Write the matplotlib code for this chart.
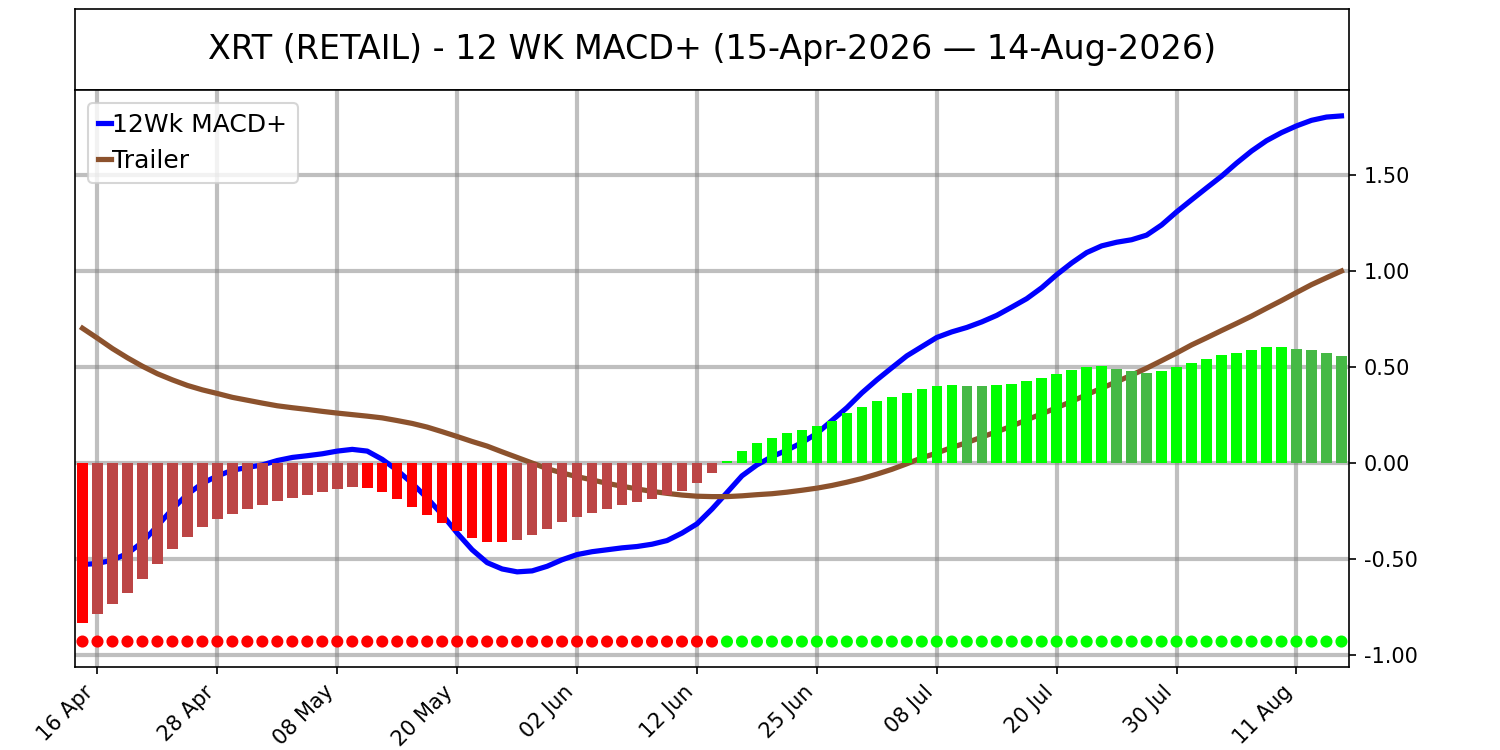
import numpy as np
import pandas as pd
import matplotlib
matplotlib.use("Agg")
import matplotlib.pyplot as plt
from matplotlib.ticker import FormatStrFormatter

# торговые дни 15-Apr-2026 .. 14-Aug-2026 (без праздников США)
holidays = ["2026-05-25", "2026-06-19", "2026-07-03"]
dates = pd.bdate_range("2026-04-15", "2026-08-14", freq="C", holidays=holidays)

hist = [-0.833, -0.788, -0.737, -0.677, -0.606, -0.525, -0.448, -0.385, -0.333, -0.290,
        -0.265, -0.240, -0.219, -0.198, -0.183, -0.167, -0.150, -0.135, -0.125, -0.131,
        -0.150, -0.187, -0.231, -0.271, -0.313, -0.352, -0.390, -0.410, -0.413, -0.400,
        -0.375, -0.346, -0.308, -0.279, -0.260, -0.240, -0.221, -0.202, -0.187, -0.169,
        -0.148, -0.102, -0.052, 0.010, 0.065, 0.106, 0.131, 0.154, 0.173, 0.192,
        0.221, 0.258, 0.292, 0.323, 0.346, 0.365, 0.388, 0.402, 0.405, 0.403,
        0.402, 0.408, 0.413, 0.429, 0.444, 0.465, 0.487, 0.500, 0.503, 0.492,
        0.481, 0.471, 0.481, 0.502, 0.523, 0.544, 0.560, 0.575, 0.590, 0.602,
        0.604, 0.596, 0.590, 0.575, 0.556]

macd = [-0.529, -0.523, -0.506, -0.471, -0.413, -0.327, -0.240, -0.163, -0.106, -0.067,
        -0.038, -0.023, -0.010, 0.013, 0.029, 0.038, 0.048, 0.062, 0.071, 0.062,
        0.019, -0.038, -0.106, -0.183, -0.269, -0.365, -0.452, -0.519, -0.552, -0.567,
        -0.562, -0.538, -0.504, -0.477, -0.462, -0.452, -0.442, -0.435, -0.423, -0.404,
        -0.365, -0.317, -0.240, -0.154, -0.067, -0.010, 0.033, 0.067, 0.106, 0.154,
        0.221, 0.288, 0.365, 0.433, 0.496, 0.558, 0.606, 0.654, 0.683, 0.706,
        0.735, 0.769, 0.812, 0.856, 0.913, 0.981, 1.042, 1.096, 1.131, 1.150,
        1.163, 1.187, 1.240, 1.308, 1.371, 1.433, 1.494, 1.562, 1.625, 1.679,
        1.721, 1.756, 1.785, 1.802, 1.808]

trailer = [0.702, 0.650, 0.596, 0.548, 0.504, 0.465, 0.433, 0.404, 0.381, 0.362,
           0.342, 0.327, 0.312, 0.298, 0.288, 0.279, 0.269, 0.260, 0.252, 0.244,
           0.235, 0.221, 0.206, 0.187, 0.163, 0.138, 0.112, 0.088, 0.058, 0.029,
           0.000, -0.029, -0.052, -0.071, -0.088, -0.106, -0.121, -0.135, -0.148, -0.158,
           -0.167, -0.173, -0.175, -0.175, -0.171, -0.165, -0.160, -0.152, -0.142, -0.131,
           -0.117, -0.100, -0.081, -0.058, -0.033, -0.004, 0.027, 0.052, 0.081, 0.106,
           0.135, 0.163, 0.192, 0.225, 0.256, 0.288, 0.321, 0.356, 0.390, 0.423,
           0.458, 0.494, 0.533, 0.573, 0.615, 0.652, 0.690, 0.727, 0.765, 0.806,
           0.846, 0.888, 0.929, 0.965, 1.000]

title = "XRT (RETAIL) - 12 WK MACD+ (15-Apr-2026 \u2014 14-Aug-2026)"

x = np.arange(len(dates))
h = np.array(hist)

# цвет столбиков: яркий, если гистограмма растёт по модулю
bar_colors = []
for i in range(len(h)):
    prev = h[i - 1] if i > 0 else 0.0
    if h[i] >= 0:
        bar_colors.append("#00ff00" if (i == 0 or h[i] > prev) else "#45b945")
    else:
        bar_colors.append("#ff0000" if (i == 0 or h[i] < prev) else "#bc4545")
dot_colors = ["#ff0000" if v < 0 else "#00ff00" for v in h]

fig = plt.figure(figsize=(10, 5), dpi=150)

# заголовок в отдельной рамке
tax = fig.add_axes([0.05, 0.88, 0.8493, 0.108])
tax.set_xticks([])
tax.set_yticks([])
tax.text(0.5, 0.5, title, ha="center", va="center", fontsize=16, transform=tax.transAxes)

ax = fig.add_axes([0.05, 0.1107, 0.8493, 0.7693])
ax.set_axisbelow(True)
ax.grid(True, color="grey", alpha=0.5, linewidth=2)

ax.plot(x, macd, color="#0000ff", linewidth=2.5, label="12Wk MACD+", zorder=0.8)
ax.plot(x, trailer, color="#8c522d", linewidth=2.5, label="Trailer", zorder=0.8)
ax.bar(x, h, width=0.7, color=bar_colors, zorder=1)
ax.scatter(x, np.full(len(x), -0.93), s=23, c=dot_colors, zorder=3)

ax.set_xlim(-0.5, len(x) - 0.5)
ax.set_ylim(-1.0625, 1.943)
ax.yaxis.tick_right()
ax.set_yticks([-1.0, -0.5, 0.0, 0.5, 1.0, 1.5])
ax.yaxis.set_major_formatter(FormatStrFormatter("%.2f"))

tick_pos = list(range(1, len(x), 8))
ax.set_xticks(tick_pos)
ax.set_xticklabels([dates[i].strftime("%d %b") for i in tick_pos], rotation=45, ha="right")

ax.legend(loc="upper left", fontsize=12, handlelength=0.55, handletextpad=0.05)

fig.savefig("out.png", dpi=150)
